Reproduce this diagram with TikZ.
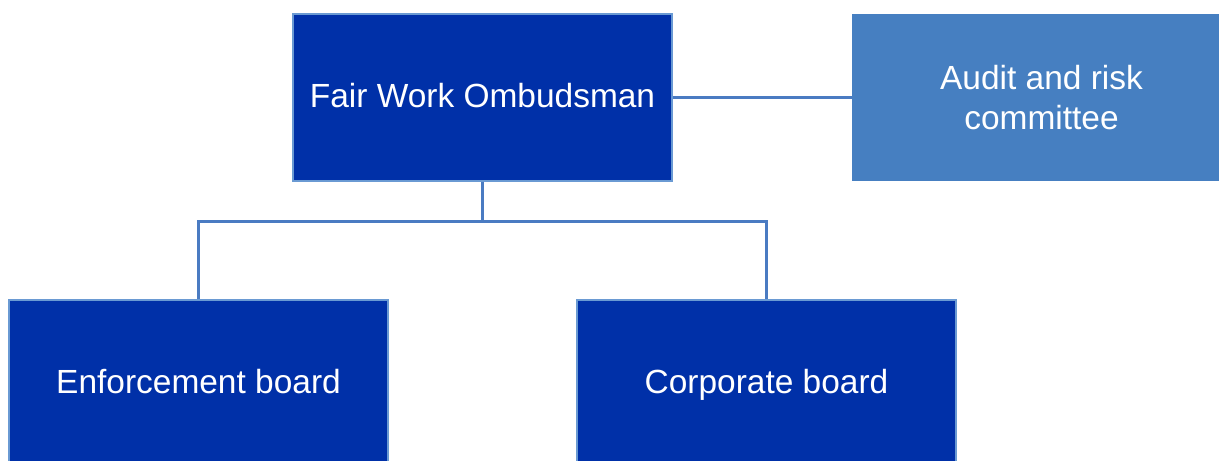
\documentclass[tikz,border=0pt]{standalone}
\usepackage{fontspec}
\setmainfont{Liberation Sans}
\usetikzlibrary{positioning}

\definecolor{boardblue}{HTML}{0030A8}
\definecolor{edgeblue}{HTML}{6A9AD3}
\definecolor{auditblue}{HTML}{467FC1}
\definecolor{linkblue}{HTML}{4A7BC2}

\tikzset{
  panel/.style={rectangle, minimum width=9.475cm, minimum height=4.175cm,
    inner sep=0pt, text=white, align=center,
    font=\fontsize{23.8}{28.5}\selectfont},
  office/.style={panel, fill=boardblue, draw=edgeblue, line width=0.8pt,
    text height=18.6pt, text depth=5pt},
  committee/.style={panel, fill=auditblue},
  link/.style={draw=linkblue, line width=2pt}
}

\begin{document}
\begin{tikzpicture}[x=0.025cm, y=-0.025cm]
\useasboundingbox (0,0) rectangle (1219,461);
\clip (0,0) rectangle (1219,461);

% boxes
\node[office, name=fwo] at (482.5,97.5) {Fair Work Ombudsman};
\node[committee, name=audit] at (1041.5,97.5) {Audit and risk\\committee};
\node[office, name=enforce] at (198.5,383.5) {Enforcement board};
\node[office, name=corporate] at (766.5,383.5) {Corporate board};

% connections
\draw[link] (fwo.east) -- (audit.west);
\draw[link] (fwo.south) -- ++(0,40) coordinate (split);
\draw[link] (split) -| (enforce.north);
\draw[link] (split) -| (corporate.north);

\end{tikzpicture}
\end{document}
